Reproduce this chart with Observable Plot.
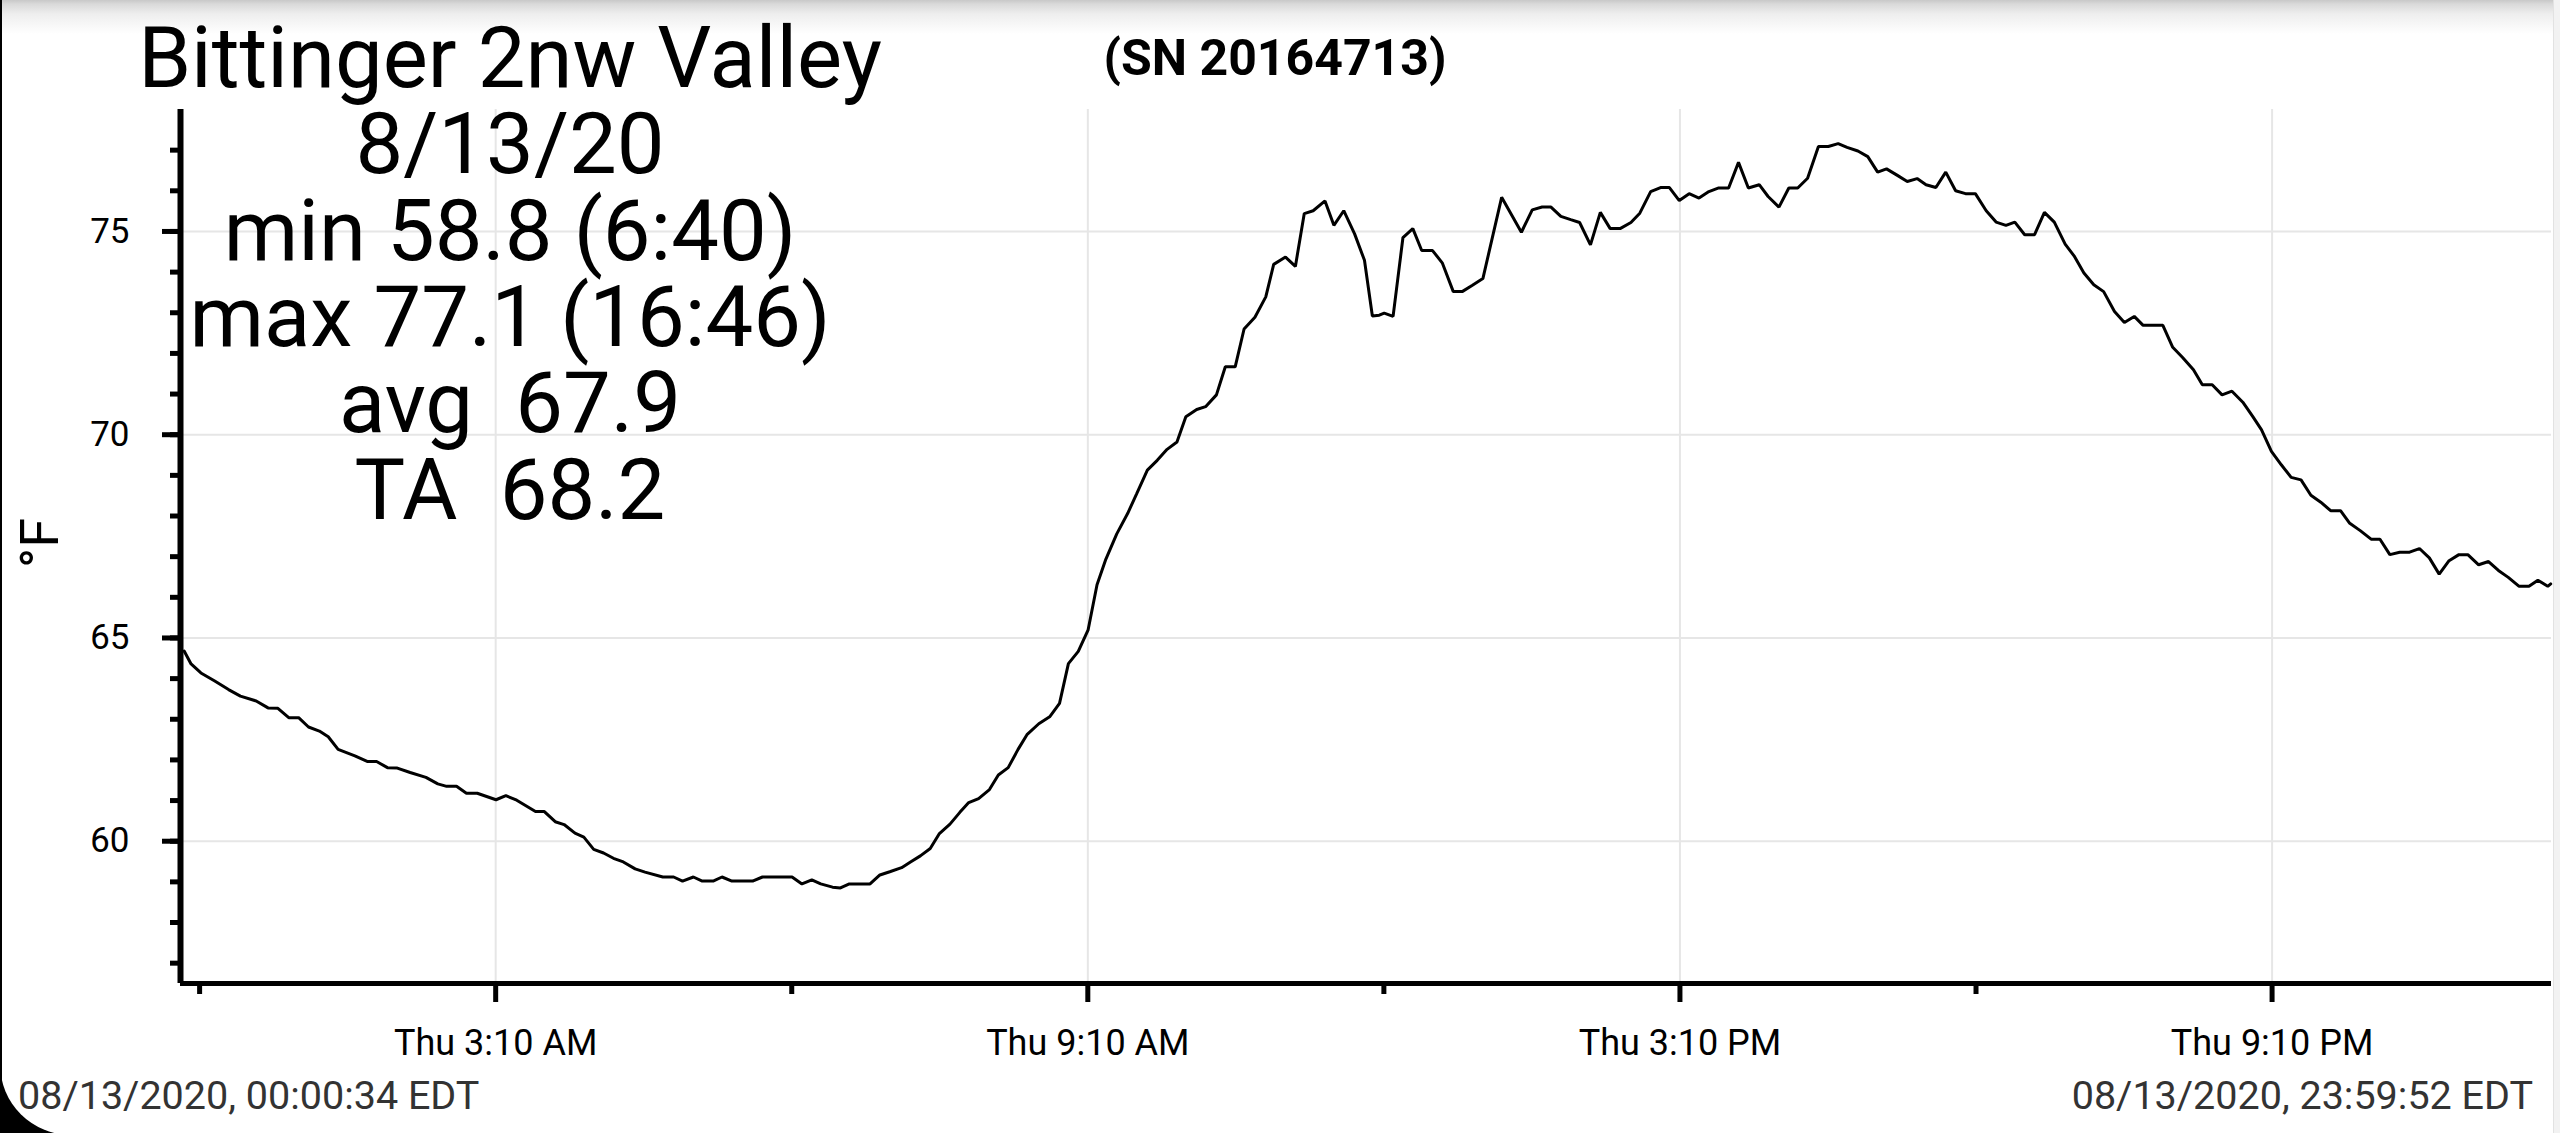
<!DOCTYPE html>
<html>
<head>
<meta charset="utf-8">
<script src="https://cdn.jsdelivr.net/npm/d3@7"></script>
<script src="https://cdn.jsdelivr.net/npm/@observablehq/plot@0.6"></script>
<style>
  html, body { margin: 0; padding: 0; }
  body { width: 2560px; height: 1133px; background: #000; overflow: hidden; position: relative; font-family: Roboto, sans-serif; }
  #page { position: absolute; left: 0; top: 0; width: 2560px; height: 1135px; background: #fff; border-bottom-left-radius: 71px; overflow: hidden; }
  #chart { position: absolute; left: 0; top: 0; }
  .ov { position: absolute; white-space: pre; color: #000; font-family: Roboto, sans-serif; }
  #topbar { position: absolute; left: 0; top: 0; width: 2560px; height: 34px;
    background: linear-gradient(to bottom, #c8c8c8 0px, #d9d9d9 4px, #eeeeee 14px, rgba(255,255,255,0) 34px); }
  #leftedge { position: absolute; left: 0; top: 0; width: 2px; height: 1133px; background: #000; }
  #rightedge { position: absolute; left: 2553px; top: 0; width: 7px; height: 1133px; background: #f2f2f2; border-left: 1px solid #e2e2e2; }
</style>
</head>
<body>
<div id="page">
  <div id="chart"></div>
  <div id="topbar"></div>
  <div id="rightedge"></div>
  <div id="stats" class="ov"></div>
  <div id="serial" class="ov"></div>
  <div id="ylab" class="ov"></div>
  <div id="footL" class="ov"></div>
  <div id="footR" class="ov"></div>
</div>
<div id="leftedge"></div>
<script>
// ---- data (hours since midnight, °F) ----
const hours = [
0.01,0.08,0.18,0.32,0.46,0.58,0.74,0.86,0.96,1.07,1.17,1.27,1.38,1.47,1.57,1.74,1.87,1.96,2.07,2.17,2.30,2.46,2.58,2.67,2.77,2.87,2.98,3.17,3.27,3.38,3.57,3.66,3.77,3.86,3.97,4.06,4.16,4.26,4.36,4.46,4.58,4.68,4.86,4.97,5.06,5.17,5.26,5.37,5.46,5.56,5.77,5.87,6.17,6.27,
6.37,6.46,6.58,6.66,6.75,6.96,7.06,7.16,7.28,7.37,7.47,7.57,7.66,7.77,7.87,7.96,8.06,8.17,8.26,8.36,8.46,8.55,8.67,8.78,8.88,8.97,9.07,9.17,9.26,9.35,9.46,9.57,9.66,9.77,9.87,9.97,10.07,10.16,10.27,10.36,10.47,10.56,10.66,10.75,10.86,10.97,11.05,11.17,11.27,11.36,11.45,11.57,11.66,11.76,11.87,11.97,12.05,12.12,
12.17,12.26,12.36,12.46,12.55,12.66,12.76,12.87,12.96,13.06,13.17,13.36,13.56,13.67,13.77,13.86,13.96,14.06,14.15,14.26,14.36,14.46,14.56,14.67,14.76,14.87,14.97,15.06,15.16,15.26,15.36,15.46,15.56,15.66,15.76,15.86,15.97,16.06,16.17,16.27,16.36,16.46,16.57,16.67,16.77,16.86,16.97,17.07,17.17,17.26,17.37,17.47,17.57,17.66,17.76,17.86,17.96,
18.06,18.16,18.27,18.37,18.47,18.56,18.66,18.76,18.86,18.96,19.07,19.16,19.26,19.36,19.46,19.57,19.67,19.77,19.86,20.06,20.16,20.26,20.37,20.46,20.56,20.66,20.76,20.87,20.97,21.06,21.16,21.26,21.36,21.46,21.56,21.66,21.76,21.86,21.95,22.06,22.17,22.26,22.36,22.46,22.56,22.66,22.76,22.86,22.96,23.06,23.15,23.26,23.36,23.46,23.56,23.67,23.77,23.86,23.96,23.99
];
const tempF = [
64.68,64.36,64.14,63.94,63.73,63.57,63.45,63.28,63.27,63.04,63.04,62.81,62.71,62.57,62.26,62.10,61.96,61.96,61.81,61.80,61.69,61.57,61.41,61.35,61.35,61.18,61.18,61.02,61.12,61.01,60.73,60.73,60.48,60.41,60.20,60.10,59.80,59.71,59.58,59.49,59.32,59.24,59.12,59.12,59.02,59.12,59.02,59.02,59.12,59.02,59.02,59.12,59.12,58.95,
59.05,58.95,58.87,58.85,58.95,58.95,59.17,59.25,59.35,59.49,59.64,59.82,60.18,60.42,60.71,60.95,61.05,61.27,61.63,61.81,62.26,62.62,62.89,63.06,63.39,64.37,64.67,65.20,66.31,66.94,67.56,68.06,68.54,69.13,69.37,69.64,69.82,70.44,70.62,70.69,70.98,71.67,71.67,72.60,72.89,73.39,74.19,74.37,74.14,75.44,75.51,75.75,75.15,75.51,74.94,74.29,72.92,72.94,
72.99,72.91,74.85,75.07,74.53,74.53,74.22,73.52,73.52,73.67,73.84,75.84,74.98,75.53,75.60,75.60,75.37,75.29,75.22,74.67,75.47,75.07,75.07,75.22,75.45,75.98,76.08,76.08,75.76,75.93,75.82,75.98,76.07,76.07,76.70,76.07,76.15,75.86,75.60,76.07,76.07,76.31,77.09,77.09,77.16,77.07,76.98,76.84,76.46,76.54,76.38,76.23,76.30,76.15,76.08,76.46,76.00,
75.93,75.93,75.51,75.23,75.15,75.23,74.92,74.92,75.47,75.23,74.69,74.40,73.98,73.69,73.52,73.03,72.76,72.91,72.69,72.69,72.15,71.90,71.60,71.23,71.23,70.98,71.07,70.80,70.45,70.12,69.59,69.26,68.95,68.89,68.51,68.34,68.13,68.13,67.83,67.64,67.43,67.43,67.05,67.11,67.11,67.20,66.97,66.57,66.90,67.05,67.05,66.80,66.88,66.66,66.49,66.27,66.27,66.42,66.27,66.33
];

// ---- tick definitions ----
const xMajorTicks = [3 + 10/60, 9 + 10/60, 15 + 10/60, 21 + 10/60];
const xMajorLabels = ["Thu 3:10 AM", "Thu 9:10 AM", "Thu 3:10 PM", "Thu 9:10 PM"];
const xMinorTicks = [10/60, 6 + 10/60, 12 + 10/60, 18 + 10/60];
const yMajorTicks = [60, 65, 70, 75];
const yMinorTicks = [57,58,59,60,61,62,63,64,65,66,67,68,69,70,71,72,73,74,75,76,77];

// ---- texts ----
const titleLines = ["Bittinger 2nw Valley", "8/13/20", "min 58.8 (6:40)", "max 77.1 (16:46)", "avg  67.9", "TA  68.2"];
const serialText = "(SN 20164713)";
const yLabel = "°F";
const footerStart = "08/13/2020, 00:00:34 EDT";
const footerEnd = "08/13/2020, 23:59:52 EDT";

const xDomain = [-0.027, 23.998];
const yDomain = [56.5, 78];

const rows = hours.map((h, i) => ({h, t: tempF[i]}));

const chart = Plot.plot({
  width: 2560,
  height: 1133,
  marginLeft: 180,
  marginRight: 9,
  marginTop: 109,
  marginBottom: 150,
  x: {domain: xDomain, label: null},
  y: {domain: yDomain, label: null},
  style: {background: "transparent", fontFamily: "Roboto, sans-serif", color: "#000", overflow: "visible"},
  marks: [
    Plot.gridX(xMajorTicks, {stroke: "#e6e6e6", strokeOpacity: 1, strokeWidth: 2}),
    Plot.gridY(yMajorTicks, {stroke: "#e6e6e6", strokeOpacity: 1, strokeWidth: 2}),
    Plot.axisY(yMinorTicks, {tickSize: 10, strokeWidth: 5, tickFormat: () => "", label: null}),
    Plot.axisY(yMajorTicks, {tickSize: 18, tickPadding: 33, strokeWidth: 5, fontSize: 35, tickFormat: d => String(d), label: null}),
    Plot.axisX(xMinorTicks, {tickSize: 11, strokeWidth: 5, tickFormat: () => "", label: null}),
    Plot.axisX(xMajorTicks, {tickSize: 19, tickPadding: 27, strokeWidth: 5, fontSize: 36,
      tickFormat: d => xMajorLabels[xMajorTicks.indexOf(d)], label: null}),
    Plot.ruleX([xDomain[0]], {stroke: "#000", strokeWidth: 6}),
    Plot.ruleY([yDomain[0]], {stroke: "#000", strokeWidth: 5}),
    Plot.line(rows, {x: "h", y: "t", stroke: "#000", strokeWidth: 3, strokeLinejoin: "miter"})
  ]
});
document.getElementById("chart").appendChild(chart);

// ---- overlay texts ----
const stats = document.getElementById("stats");
stats.textContent = titleLines.join("\n");
Object.assign(stats.style, {left: "60px", width: "900px", top: "14.8px", fontSize: "85px", lineHeight: "86.4px", textAlign: "center"});

const serial = document.getElementById("serial");
serial.textContent = serialText;
Object.assign(serial.style, {left: "1075px", width: "400px", top: "33px", fontSize: "50px", lineHeight: "50px", fontWeight: "700", textAlign: "center"});

const ylab = document.getElementById("ylab");
ylab.textContent = yLabel;
Object.assign(ylab.style, {left: "40px", top: "543px", fontSize: "54px", lineHeight: "54px", transform: "translate(-50%,-50%) rotate(-90deg)"});

const footL = document.getElementById("footL");
footL.textContent = footerStart;
Object.assign(footL.style, {left: "18px", top: "1076px", fontSize: "39.5px", lineHeight: "39.5px", color: "#333"});

const footR = document.getElementById("footR");
footR.textContent = footerEnd;
Object.assign(footR.style, {right: "27px", top: "1076px", fontSize: "39.5px", lineHeight: "39.5px", color: "#333"});
</script>
</body>
</html>
